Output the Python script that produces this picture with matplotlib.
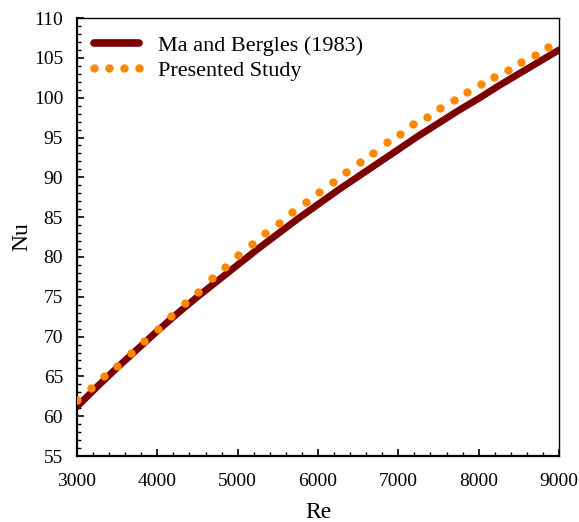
import numpy as np
import matplotlib
matplotlib.use("Agg")
import matplotlib.pyplot as plt
from matplotlib.ticker import MultipleLocator

plt.rcParams["font.family"] = ["Liberation Serif", "DejaVu Serif"]

# Ma and Bergles (1983) correlation curve
re_ref = [3000, 3250, 3500, 3750, 4000, 4250, 4500, 4750, 5000, 5250, 5500, 5750, 6000,
          6250, 6500, 6750, 7000, 7250, 7500, 7750, 8000, 8250, 8500, 8750, 9000]
nu_ref = [61.2, 63.7, 66.1, 68.4, 70.7, 72.9, 75.0, 77.0, 79.0, 81.0, 82.9, 84.8, 86.6,
          88.4, 90.1, 91.8, 93.5, 95.2, 96.8, 98.4, 99.9, 101.5, 103.0, 104.5, 106.0]

# Presented study points
re_sim = [3000, 3168, 3335, 3503, 3670, 3838, 4005, 4173, 4340, 4508, 4675, 4843,
          5010, 5178, 5345, 5513, 5680, 5848, 6015, 6183, 6350, 6518, 6685, 6853,
          7020, 7188, 7355, 7523, 7690, 7858, 8025, 8193, 8360, 8528, 8695, 8865]
nu_sim = [62.0, 63.5, 65.0, 66.3, 67.9, 69.4, 70.9, 72.6, 74.2, 75.6, 77.3, 78.7,
          80.2, 81.6, 83.0, 84.3, 85.6, 86.9, 88.1, 89.4, 90.7, 91.9, 93.1, 94.4,
          95.5, 96.7, 97.6, 98.7, 99.7, 100.7, 101.7, 102.6, 103.5, 104.5, 105.4, 106.4]

fig = plt.figure(figsize=(5.79, 5.22), dpi=100)
ax = fig.add_axes([0.133, 0.1264, 0.8325, 0.839])

ax.plot(re_ref, nu_ref, color="#7B0000", lw=5, solid_capstyle="round",
        label="Ma and Bergles (1983)", zorder=2)
ax.plot(re_sim, nu_sim, linestyle="none", marker="o", ms=6, color="#FF8800",
        markeredgewidth=0, label="Presented Study", zorder=3)

ax.set_xlim(3000, 9000)
ax.set_ylim(55, 110)
ax.xaxis.set_major_locator(MultipleLocator(1000))
ax.xaxis.set_minor_locator(MultipleLocator(200))
ax.yaxis.set_major_locator(MultipleLocator(5))
ax.yaxis.set_minor_locator(MultipleLocator(1))
ax.tick_params(which="both", direction="in", top=False, right=False,
               labelsize=14, colors="black")
ax.tick_params(which="major", length=5, width=1.2)
ax.tick_params(axis="x", which="major", pad=12)
ax.tick_params(axis="y", which="major", pad=10)
ax.tick_params(which="minor", length=3, width=1.0)
for side in ["left", "bottom"]:
    ax.spines[side].set_linewidth(1.6)
for side in ["top", "right"]:
    ax.spines[side].set_linewidth(1.0)

ax.set_xlabel("Re", fontsize=17, labelpad=9)
ax.set_ylabel("Nu", fontsize=17, labelpad=1)

leg = ax.legend(loc="upper left", bbox_to_anchor=(-0.01, 0.996), frameon=False,
                fontsize=16, numpoints=4, handlelength=2.6, handletextpad=0.55,
                labelspacing=0.2, borderaxespad=0.3)
leg.legend_handles[0].set_linewidth(5.5)

fig.savefig("out.png", dpi=100)
